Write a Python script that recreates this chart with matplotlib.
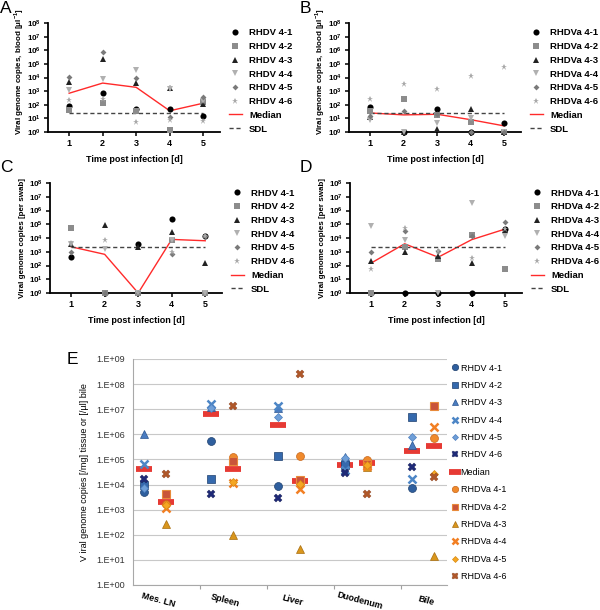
import matplotlib
matplotlib.use("Agg")
import matplotlib.pyplot as plt
import numpy as np

plt.rcParams['font.family'] = ['Liberation Sans', 'DejaVu Sans']
plt.rcParams['mathtext.fontset'] = 'custom'
plt.rcParams['mathtext.rm'] = 'Liberation Sans'
plt.rcParams['mathtext.bf'] = 'Liberation Sans:bold'

# ---- panels A-D: days post infection ----
days = [1, 2, 3, 4, 5]
rhdv_names = ['RHDV 4-1', 'RHDV 4-2', 'RHDV 4-3', 'RHDV 4-4', 'RHDV 4-5', 'RHDV 4-6']
rhdva_names = ['RHDVa 4-1', 'RHDVa 4-2', 'RHDVa 4-3', 'RHDVa 4-4', 'RHDVa 4-5', 'RHDVa 4-6']

# A: RHDV, blood
a_41 = [80, 740, 47, 52, 14]
a_42 = [40, 130, 34, 1.3, 150]
a_43 = [4600, 2.4e5, 3900, 1700, 120]
a_44 = [1300, 8000, 3.4e4, 1500, 200]
a_45 = [1.1e4, 7.8e5, 1.0e4, 12, 370]
a_46 = [240, 260, 5.6, 7, 6.3]
a_med = [700, 3900, 1900, 36, 130]
a_sdl = 25

# B: RHDVa, blood
b_41 = [70, 1, 45, 1, 4.5]
b_42 = [34, 250, 18, 5.6, 1]
b_43 = [13, 1, 1.6, 45, 1]
b_44 = [7, 1, 4.3, 10, 1]
b_45 = [16, 35, 20, 1, 1]
b_46 = [280, 3500, 1500, 1.2e4, 6.3e4]
b_med = [25, 18, 20, 8, 2.8]
b_sdl = 23

# C: RHDV, swab
c_41 = [400, 1, 3600, 2.3e5, 1.3e4]
c_42 = [5.4e4, 1, 1, 7500, 1]
c_43 = [3500, 9.3e4, 2100, 2.9e4, 160]
c_44 = [3800, 1600, 1, 7000, 1]
c_45 = [1000, 1, 1, 700, 1.4e4]
c_46 = [4500, 7000, 1, 900, 1.4e4]
c_med = [2300, 650, 1, 7900, 6300]
c_sdl = 2300

# D: RHDVa, swab
d_41 = [1, 1, 1, 1, 4.8e4]
d_42 = [1, 2100, 280, 1.6e4, 56]
d_43 = [200, 900, 500, 160, 4e4]
d_44 = [8e4, 7000, 1, 3.3e6, 1.3e4]
d_45 = [1000, 3.1e4, 1100, 1.5e4, 1.4e5]
d_46 = [56, 5.4e4, 1200, 350, 4.2e4]
d_med = [150, 3800, 400, 7600, 4.5e4]
d_sdl = 2300

# ---- panel E: organs ----
organs = ['Mes. LN', 'Spleen', 'Liver', 'Duodenum', 'Bile']
e_rhdv_41 = [5.2e3, 5.2e5, 8.9e3, 8e4, 7.6e3]
e_rhdv_42 = [1.0e4, 1.6e4, 1.4e5, 6e4, 5e6]
e_rhdv_43 = [1.05e6, 1.2e7, 1.1e7, 1.3e5, 3.7e5]
e_rhdv_44 = [6.7e4, 1.6e7, 1.35e7, 3.7e4, 1.7e4]
e_rhdv_45 = [7e3, 1.1e7, 5e6, 1.1e5, 7.6e5]
e_rhdv_46 = [1.6e4, 4.3e3, 2.8e3, 2.8e4, 4.8e4]
e_rhdv_med = [4.2e4, 6.6e6, 2.4e6, 5.9e4, 2.15e5]
e_rhdva_41 = [1.7e3, 1.2e5, 1.4e5, 9.4e4, 6.9e5]
e_rhdva_42 = [4.3e3, 8.3e4, 1.5e4, 6.5e4, 1.3e7]
e_rhdva_43 = [2.6e2, 96, 27, 4.8e4, 14.5]
e_rhdva_44 = [1.15e3, 1.2e4, 6.9e3, 5.5e4, 1.9e6]
e_rhdva_45 = [1.6e3, 1.3e4, 1.1e4, 6e4, 2.6e4]
e_rhdva_46 = [2.7e4, 1.4e7, 2.6e8, 4.1e3, 2e4]
e_rhdva_med = [2.1e3, 4.2e4, 1.35e4, 6.9e4, 3.5e5]

# marker styles for the grey panels
gray_styles = [
    dict(marker='o', color='#000000', ms=4.4),
    dict(marker='s', color='#8c8c8c', ms=4.0),
    dict(marker='^', color='#222222', ms=4.2),
    dict(marker='v', color='#b0b0b0', ms=4.2),
    dict(marker='D', color='#7a7a7a', ms=3.0),
    dict(marker='*', color='#a8a8a8', ms=4.6),
]

FS = 6.5


def time_panel(ax, series, med, sdl, names, ylabel, label_x, label_y):
    for vals, name, st in zip(series, names, gray_styles):
        ax.plot(days, vals, linestyle='none', marker=st['marker'], color=st['color'],
                ms=st['ms'], mew=0, label=name, clip_on=False, zorder=3)
    ax.plot(days, med, color='#ff2a2a', lw=1.0, label='Median', zorder=2)
    ax.plot([days[0], days[-1]], [sdl, sdl], color='#444444', lw=1.0,
            linestyle=(0, (3, 2)), label='SDL', zorder=2)
    ax.set_yscale('log')
    ax.set_ylim(1, 1e8)
    ax.set_xlim(0.37, 5.5)
    ax.set_xticks(days)
    ax.set_xticklabels([str(d) for d in days], fontsize=FS, fontweight='bold')
    ax.set_yticks([10.0 ** k for k in range(9)])
    ax.set_yticklabels([r'$\mathbf{10^{%d}}$' % k for k in range(9)], fontsize=5.8)
    ax.minorticks_off()
    for s in ['top', 'right']:
        ax.spines[s].set_visible(False)
    for s in ['left', 'bottom']:
        ax.spines[s].set_linewidth(1.3)
    ax.tick_params(width=1.1, length=3, pad=2)
    ax.set_ylabel(ylabel, fontsize=5.8, fontweight='bold')
    ax.yaxis.set_label_coords(label_x, label_y)
    ax.set_xlabel('Time post infection [d]', fontsize=FS, fontweight='bold', labelpad=5)
    ax.legend(loc='upper left', bbox_to_anchor=(1.05, 0.95), frameon=False,
              prop={'weight': 'bold', 'size': FS + 0.3},
              borderpad=0, borderaxespad=0, labelspacing=0.5,
              handlelength=1.45, handletextpad=0.7)


fig = plt.figure(figsize=(6.0, 6.1), dpi=100)

W, H = 600.0, 610.0
def px_axes(left, top, right, bottom):
    return fig.add_axes([left / W, 1 - bottom / H, (right - left) / W, (bottom - top) / H])

axA = px_axes(48, 23, 220, 132)
axB = px_axes(349, 23, 521, 132)
axC = px_axes(50, 183, 222, 293)
axD = px_axes(350, 183, 522, 293)

blood_lbl = r'Viral genome copies, blood [$\mathbf{\mu}$l$^{\mathbf{-1}}$]'
swab_lbl = 'Viral genome copies [per swab]'
time_panel(axA, [a_41, a_42, a_43, a_44, a_45, a_46], a_med, a_sdl, rhdv_names, blood_lbl, -0.128, 0.55)
time_panel(axB, [b_41, b_42, b_43, b_44, b_45, b_46], b_med, b_sdl, rhdva_names, blood_lbl, -0.128, 0.55)
time_panel(axC, [c_41, c_42, c_43, c_44, c_45, c_46], c_med, c_sdl, rhdv_names, swab_lbl, -0.138, 0.5)
time_panel(axD, [d_41, d_42, d_43, d_44, d_45, d_46], d_med, d_sdl, rhdva_names, swab_lbl, -0.138, 0.5)

for lab, x, y in [('A', 0, 1), ('B', 300, 1), ('C', 0, 160), ('D', 300, 160), ('E', 67, 352)]:
    fig.text(x / W, 1 - y / H, lab, fontsize=12.5, va='top', ha='left')

# ---- panel E ----
axE = px_axes(133, 359, 447, 585)
pos = np.arange(len(organs))
off_rhdv = -0.34

rhdv_e = [e_rhdv_41, e_rhdv_42, e_rhdv_43, e_rhdv_44, e_rhdv_45, e_rhdv_46]
rhdva_e = [e_rhdva_41, e_rhdva_42, e_rhdva_43, e_rhdva_44, e_rhdva_45, e_rhdva_46]
rhdv_sty = [
    dict(marker='o', color='#2f5f9e', ms=5.7, mew=0.5, mec='#1d3f6e'),
    dict(marker='s', color='#3569ad', ms=5.4, mew=0.5, mec='#1d3f6e'),
    dict(marker='^', color='#4a7cc0', ms=5.7, mew=0.5, mec='#2a5590'),
    dict(marker='x', color='#4d86c6', ms=5.2, mew=1.8, mec='#4d86c6'),
    dict(marker='D', color='#6f9fd8', ms=3.8, mew=0.5, mec='#4d7fbf'),
    dict(marker='X', color='#1f2a78', ms=5.7, mew=0.3, mec='#141c55'),
]
rhdva_sty = [
    dict(marker='o', color='#f08a2c', ms=5.7, mew=0.5, mec='#c8661a'),
    dict(marker='s', color='#c9543a', ms=5.4, mew=0.8, mec='#e88a3a'),
    dict(marker='^', color='#d9961c', ms=5.7, mew=0.5, mec='#a86e10'),
    dict(marker='x', color='#f27f22', ms=5.2, mew=1.8, mec='#f27f22'),
    dict(marker='D', color='#f5a623', ms=3.8, mew=0.5, mec='#d88a10'),
    dict(marker='X', color='#b0582a', ms=5.7, mew=0.3, mec='#8a3f1a'),
]
med_sty = dict(marker='_', color='#e63a34', ms=11, mew=4.2)

h_rhdv = []
for vals, name, st in zip(rhdv_e, rhdv_names, rhdv_sty):
    h, = axE.plot(pos + off_rhdv, vals, linestyle='none', label=name, zorder=3,
                  marker=st['marker'], color=st['color'], ms=st['ms'], mew=st['mew'], mec=st['mec'])
    h_rhdv.append(h)
h_med, = axE.plot(pos + off_rhdv, e_rhdv_med, linestyle='none', label='Median', zorder=2, **med_sty)
axE.plot(pos, e_rhdva_med, linestyle='none', zorder=2, **med_sty)
h_rhdva = []
for vals, name, st in zip(rhdva_e, rhdva_names, rhdva_sty):
    h, = axE.plot(pos, vals, linestyle='none', label=name, zorder=3,
                  marker=st['marker'], color=st['color'], ms=st['ms'], mew=st['mew'], mec=st['mec'])
    h_rhdva.append(h)

axE.set_yscale('log')
axE.set_ylim(1, 1e9)
axE.set_xlim(-0.5, 4.19)
axE.set_yticks([10.0 ** k for k in range(10)])
axE.set_yticklabels(['1.E+%02d' % k for k in range(10)], fontsize=FS, color='#333333')
axE.minorticks_off()
axE.yaxis.grid(True, color='#c8c8c8', lw=0.8)
axE.set_axisbelow(True)
axE.set_xticks(pos[:-1] + 0.5)
axE.set_xticklabels([])
axE.set_xticks(pos - 0.1, minor=True)
axE.set_xticklabels(organs, minor=True, rotation=-15, fontsize=FS, fontweight='bold',
                    ha='center', va='top', rotation_mode='anchor')
axE.tick_params(axis='x', which='major', length=3, color='#a0a0a0')
axE.tick_params(axis='x', which='minor', length=0, pad=8)
axE.tick_params(axis='y', length=0, pad=6)
for s in ['top', 'right']:
    axE.spines[s].set_visible(False)
for s in ['left', 'bottom']:
    axE.spines[s].set_color('#a8a8a8')
    axE.spines[s].set_linewidth(0.8)
axE.set_ylabel('V iral genome copies [/mg] tissue or [/\u00b5l] bile', fontsize=FS, labelpad=5)
axE.legend(handles=h_rhdv + [h_med] + h_rhdva, loc='upper left', bbox_to_anchor=(1.015, 0.98),
           frameon=False, fontsize=FS, borderpad=0, borderaxespad=0, labelspacing=0.93,
           handlelength=0.8, handletextpad=0.2, markerscale=0.8)

fig.savefig('out.png', dpi=100, facecolor='white')
